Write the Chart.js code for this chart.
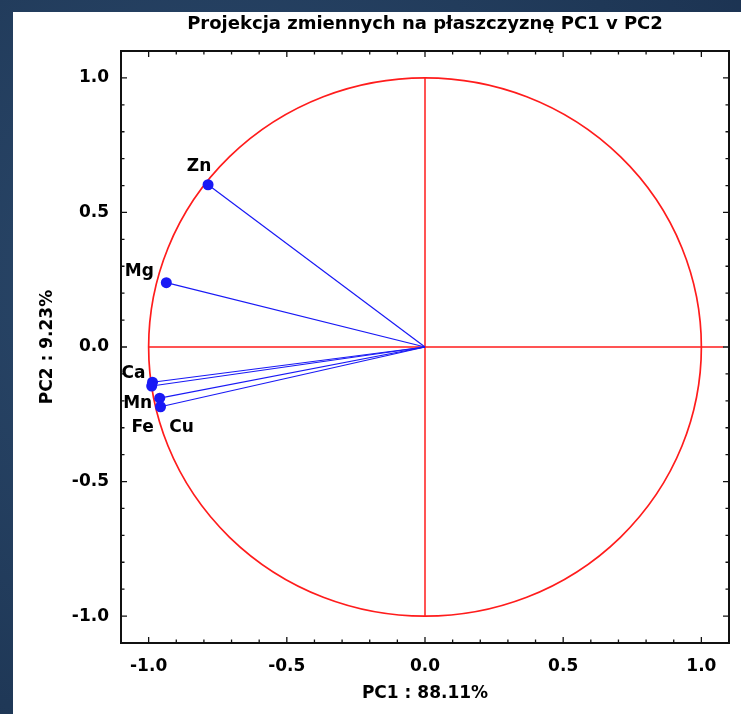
<!DOCTYPE html>
<html lang="pl">
<head>
<meta charset="utf-8">
<title>Projekcja zmiennych na płaszczyznę PC1 v PC2</title>
<script src="https://cdn.jsdelivr.net/npm/chart.js@4.4.1/dist/chart.umd.min.js"></script>
<style>
    html, body { margin: 0; padding: 0; }
    body { width: 741px; height: 714px; overflow: hidden; position: relative;
           background: radial-gradient(circle at 30% 40%, #2c4a6d 0%, #1f3857 70%, #1b3150 100%); }
    #panel { position: absolute; left: 13px; top: 12px; width: 728px; height: 702px; background: #fff; }
</style>
</head>
<body>
<div id="panel"><canvas id="grafico" width="728" height="702"></canvas></div>
<script>
// zmienne i ich ladunki na PC1 / PC2
const zmienne = ['Zn', 'Mg', 'Ca', 'Fe', 'Mn', 'Cu'];
const pc1 = [-0.785, -0.936, -0.986, -0.989, -0.960, -0.957];
const pc2 = [0.603, 0.239, -0.131, -0.145, -0.190, -0.222];
const etykietyOsi = [-1.0, -0.5, 0.0, 0.5, 1.0];
const tytul = 'Projekcja zmiennych na płaszczyznę PC1 v PC2';
const tytulX = 'PC1 : 88.11%';
const tytulY = 'PC2 : 9.23%';

// przesuniecia podpisow punktow (px)
const przesuniecia = [[-9, -18], [-27, -11], [-19, -9], [-9, 42], [-22, 5], [21, 21]];

const CZERWONY = 'rgb(255,28,28)';
const NIEBIESKI = 'rgb(25,25,245)';
const FONT = "'DejaVu Sans', sans-serif";

const liniePlugin = {
    id: 'linie',
    beforeDatasetsDraw(chart) {
        const { ctx, scales: { x, y } } = chart;
        ctx.save();
        ctx.strokeStyle = CZERWONY;
        ctx.lineWidth = 1.7;
        // okrag jednostkowy
        ctx.beginPath();
        ctx.ellipse(x.getPixelForValue(0), y.getPixelForValue(0),
            x.getPixelForValue(1) - x.getPixelForValue(0),
            y.getPixelForValue(0) - y.getPixelForValue(1), 0, 0, Math.PI * 2);
        ctx.stroke();
        ctx.lineWidth = 1.5;
        ctx.beginPath();
        ctx.moveTo(x.getPixelForValue(0), y.getPixelForValue(1));
        ctx.lineTo(x.getPixelForValue(0), y.getPixelForValue(-1));
        ctx.moveTo(x.getPixelForValue(-1), y.getPixelForValue(0));
        ctx.lineTo(x.getPixelForValue(1.08), y.getPixelForValue(0));
        ctx.stroke();
        ctx.restore();
    },
    afterDatasetsDraw(chart) {
        const { ctx, chartArea: a, scales: { x, y } } = chart;
        ctx.save();
        // ramka
        ctx.strokeStyle = '#111';
        ctx.lineWidth = 2;
        ctx.strokeRect(a.left, a.top, a.right - a.left, a.bottom - a.top);
        // znaczniki do wewnatrz
        ctx.lineWidth = 1.3;
        ctx.beginPath();
        for (let i = -11; i <= 11; i++) {
            const v = i / 10;
            const dl = (i % 5 === 0) ? 6 : 3.5;
            const px = x.getPixelForValue(v);
            const py = y.getPixelForValue(v);
            ctx.moveTo(px, a.bottom); ctx.lineTo(px, a.bottom - dl);
            ctx.moveTo(px, a.top); ctx.lineTo(px, a.top + dl);
            ctx.moveTo(a.left, py); ctx.lineTo(a.left + dl, py);
            ctx.moveTo(a.right, py); ctx.lineTo(a.right - dl, py);
        }
        ctx.stroke();
        // podpisy punktow
        ctx.fillStyle = '#000';
        ctx.font = 'bold 17px ' + FONT;
        ctx.textAlign = 'center';
        ctx.textBaseline = 'middle';
        zmienne.forEach((z, i) => {
            ctx.fillText(z, x.getPixelForValue(pc1[i]) + przesuniecia[i][0],
                y.getPixelForValue(pc2[i]) + przesuniecia[i][1]);
        });
        // tytul
        ctx.font = 'bold 18px ' + FONT;
        ctx.textBaseline = 'alphabetic';
        ctx.fillText(tytul, (a.left + a.right) / 2, 17);
        ctx.restore();
    }
};

const ctx = document.getElementById('grafico').getContext('2d');

const datasetsLinii = zmienne.map((z, i) => ({
    label: z,
    data: [{ x: 0, y: 0 }, { x: pc1[i], y: pc2[i] }],
    showLine: true,
    borderColor: NIEBIESKI,
    borderWidth: 1.2,
    pointRadius: 0
}));

new Chart(ctx, {
    type: 'scatter',
    data: {
        datasets: datasetsLinii.concat([{
            label: 'zmienne',
            data: zmienne.map((z, i) => ({ x: pc1[i], y: pc2[i] })),
            backgroundColor: NIEBIESKI,
            borderWidth: 0,
            pointRadius: 5.5
        }])
    },
    options: {
        responsive: false,
        animation: false,
        layout: { padding: { top: 39, right: 12, left: 0, bottom: 0 } },
        plugins: {
            legend: { display: false },
            tooltip: { enabled: false }
        },
        scales: {
            x: {
                min: -1.1, max: 1.1,
                grid: { display: false },
                border: { display: false },
                afterBuildTicks: s => { s.ticks = etykietyOsi.map(v => ({ value: v })); },
                afterFit: s => { s.height = 71; },
                ticks: {
                    padding: 5,
                    color: '#000',
                    font: { family: FONT, size: 17, weight: 'bold' },
                    callback: v => v.toFixed(1)
                },
                title: {
                    display: true, text: tytulX, color: '#000',
                    font: { family: FONT, size: 17, weight: 'bold' },
                    padding: { top: 10, bottom: 10 }
                }
            },
            y: {
                min: -1.1, max: 1.1,
                grid: { display: false },
                border: { display: false },
                afterBuildTicks: s => { s.ticks = etykietyOsi.map(v => ({ value: v })); },
                afterFit: s => { s.width = 108; },
                ticks: {
                    padding: 4,
                    color: '#000',
                    font: { family: FONT, size: 17, weight: 'bold' },
                    callback: v => v.toFixed(1)
                },
                title: {
                    display: true, text: tytulY, color: '#000',
                    font: { family: FONT, size: 17, weight: 'bold' },
                    padding: { top: 24, bottom: 24 }
                }
            }
        }
    },
    plugins: [liniePlugin]
});
</script>
</body>
</html>
